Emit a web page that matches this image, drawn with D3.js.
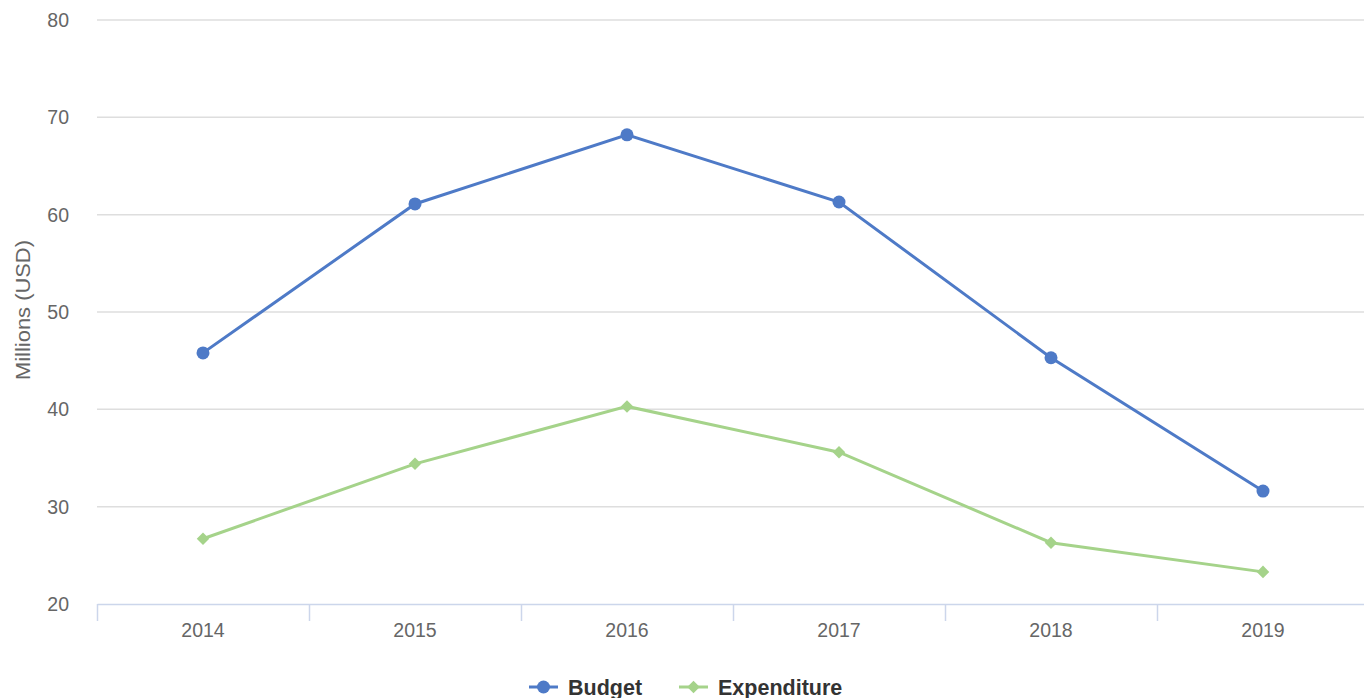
<!DOCTYPE html>
<html>
<head>
<meta charset="utf-8">
<script src="https://cdn.jsdelivr.net/npm/d3@7"></script>
<style>
  body { margin: 0; background: #fff; font-family: "Liberation Sans", Arial, sans-serif; }
  svg { display: block; }
</style>
</head>
<body>
<svg id="chart" width="1364" height="698"></svg>
<script>
// chart data
var years = ["2014", "2015", "2016", "2017", "2018", "2019"];
var budget = [45.8, 61.1, 68.2, 61.3, 45.3, 31.6];
var expenditure = [26.7, 34.4, 40.3, 35.6, 26.3, 23.3];
var yTicks = [20, 30, 40, 50, 60, 70, 80];

var margin = {top: 20, left: 97, bottom: 604, right: 1369};

var svg = d3.select("#chart");

var x = d3.scaleBand()
  .domain(years)
  .range([margin.left, margin.right]);

var y = d3.scaleLinear()
  .domain([20, 80])
  .range([margin.bottom, margin.top]);

// grid lines
svg.append("g")
  .selectAll("line")
  .data(yTicks.slice(1))
  .enter().append("line")
  .attr("x1", margin.left)
  .attr("x2", 1364)
  .attr("y1", function(d) { return y(d); })
  .attr("y2", function(d) { return y(d); })
  .attr("stroke", "#dedede")
  .attr("stroke-width", 1.5);

// y axis labels
svg.append("g")
  .selectAll("text")
  .data(yTicks)
  .enter().append("text")
  .attr("x", 69)
  .attr("y", function(d) { return y(d) + 7; })
  .attr("text-anchor", "end")
  .attr("fill", "#666666")
  .style("font-size", "19.5px")
  .text(function(d) { return d; });

svg.append("text")
  .attr("transform", "translate(30,310) rotate(-90)")
  .attr("text-anchor", "middle")
  .attr("fill", "#666666")
  .attr("textLength", 140)
  .attr("lengthAdjust", "spacingAndGlyphs")
  .style("font-size", "20px")
  .text("Millions (USD)");

// x axis
var xAxis = svg.append("g")
  .attr("transform", "translate(0," + margin.bottom + ")")
  .call(d3.axisBottom(x).tickSize(0).tickPadding(19));
xAxis.select(".domain").attr("stroke", "#ccd6eb").attr("stroke-width", 1.5);
xAxis.selectAll("text")
  .attr("fill", "#666666")
  .style("font-size", "19.5px")
  .style("font-family", "Liberation Sans, Arial, sans-serif");

svg.append("g")
  .selectAll("line")
  .data(years)
  .enter().append("line")
  .attr("x1", function(d) { return x(d) + 0.5; })
  .attr("x2", function(d) { return x(d) + 0.5; })
  .attr("y1", margin.bottom)
  .attr("y2", margin.bottom + 17)
  .attr("stroke", "#ccd6eb")
  .attr("stroke-width", 1.5);

var cx = function(d, i) { return x(years[i]) + x.bandwidth() / 2; };

var line = d3.line()
  .x(cx)
  .y(function(d) { return y(d); });

// budget series
svg.append("path")
  .datum(budget)
  .attr("d", line)
  .attr("fill", "none")
  .attr("stroke", "#4e7ac7")
  .attr("stroke-width", 3);

svg.append("g")
  .selectAll("circle")
  .data(budget)
  .enter().append("circle")
  .attr("cx", cx)
  .attr("cy", function(d) { return y(d); })
  .attr("r", 6.5)
  .attr("fill", "#4e7ac7");

// expenditure series
svg.append("path")
  .datum(expenditure)
  .attr("d", line)
  .attr("fill", "none")
  .attr("stroke", "#a5d38a")
  .attr("stroke-width", 3);

var diamond = d3.symbol().type(d3.symbolDiamond2).size(100);
svg.append("g")
  .selectAll("path")
  .data(expenditure)
  .enter().append("path")
  .attr("d", diamond)
  .attr("transform", function(d, i) { return "translate(" + cx(d, i) + "," + y(d) + ")"; })
  .attr("fill", "#a5d38a");

// legend
var legend = svg.append("g").attr("transform", "translate(0,687)");
var items = [
  {name: "Budget", color: "#4e7ac7", x: 529, shape: "circle"},
  {name: "Expenditure", color: "#a5d38a", x: 679, shape: "diamond"}
];
items.forEach(function(it) {
  legend.append("line")
    .attr("x1", it.x).attr("x2", it.x + 29)
    .attr("y1", 0).attr("y2", 0)
    .attr("stroke", it.color).attr("stroke-width", 3);
  if (it.shape === "circle") {
    legend.append("circle").attr("cx", it.x + 14.5).attr("cy", 0).attr("r", 6.5).attr("fill", it.color);
  } else {
    legend.append("path").attr("d", diamond).attr("transform", "translate(" + (it.x + 14.5) + ",0)").attr("fill", it.color);
  }
  legend.append("text")
    .attr("x", it.x + 39)
    .attr("y", 8)
    .attr("fill", "#333333")
    .style("font-size", "21.5px")
    .style("font-weight", "bold")
    .text(it.name);
});
</script>
</body>
</html>
